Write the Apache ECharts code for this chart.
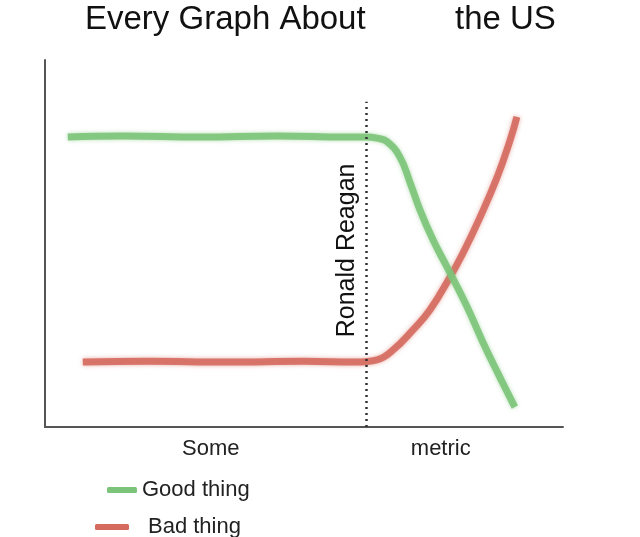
<!DOCTYPE html>
<html>
<head>
<meta charset="utf-8">
<style>
  html, body { margin: 0; padding: 0; background: #fff; }
  #container { width: 640px; height: 537px; }
</style>
<script src="https://cdn.jsdelivr.net/npm/echarts@6/dist/echarts.min.js"></script>
</head>
<body>
<div id="container"></div>
<script>
// "Some metric" runs 0..100 along x, y is an unitless 0..100 score
var goodX = [4.4, 15, 30, 45, 58, 62, 64.1, 66.0, 68.5, 70.5, 72.4, 74.9, 77.6, 81.5, 84.6, 87.8, 90.7];
var goodY = [79.0, 79.3, 79.0, 79.3, 79.0, 79.0, 78.7, 77.8, 73.6, 66.5, 59.1, 51.0, 43.6, 32.7, 22.9, 13.6, 5.4];

var badX = [7.3, 20, 35, 50, 60, 64.1, 67.2, 71.0, 74.3, 78.2, 80.7, 84.0, 87.3, 89.8, 91.1];
var badY = [17.7, 17.9, 17.7, 17.9, 17.7, 18.3, 21.0, 26.4, 31.9, 40.9, 47.4, 57.2, 68.1, 78.2, 84.5];

var tickLabels = ['Some', 'metric'];
var tickPositions = [32, 76.4];

var reaganX = 62;
var reaganTop = 88.6;

var FONT = '"Liberation Sans", Arial, sans-serif';

function pairs(xs, ys) {
	return xs.map(function (x, i) { return [x, ys[i]]; });
}

var myChart = echarts.init(document.getElementById('container'));

var option = {
	animation: false,
	backgroundColor: '#fff',
	title: [
		{ text: 'Every Graph About', left: 85, top: 3, padding: 0,
		  textStyle: { fontFamily: FONT, fontSize: 33, fontWeight: 'normal', color: '#111' } },
		{ text: 'the US', left: 455, top: 3, padding: 0,
		  textStyle: { fontFamily: FONT, fontSize: 33, fontWeight: 'normal', color: '#111' } }
	],
	legend: [
		{ data: ['Good thing'], left: 102, top: 474, icon: 'roundRect',
		  itemWidth: 30, itemHeight: 6,
		  textStyle: { fontFamily: FONT, fontSize: 22, color: '#222' } },
		{ data: ['Bad thing'], left: 90, top: 511, icon: 'roundRect',
		  itemWidth: 34, itemHeight: 6,
		  textStyle: { fontFamily: FONT, fontSize: 22, color: '#222', padding: [0, 0, 0, 14] } }
	],
	grid: { left: 45, right: 77, top: 60, bottom: 110 },
	xAxis: {
		type: 'value', min: 0, max: 100,
		splitLine: { show: false },
		axisTick: { show: false },
		axisLine: { lineStyle: { color: '#555', width: 2 } },
		axisLabel: {
			customValues: tickPositions,
			margin: 11,
			fontFamily: FONT, fontSize: 22, color: '#222',
			formatter: function (v) {
				var i = tickPositions.indexOf(v);
				return i >= 0 ? tickLabels[i] : '';
			}
		}
	},
	yAxis: {
		type: 'value', min: 0, max: 100,
		splitLine: { show: false },
		axisTick: { show: false },
		axisLabel: { show: false },
		axisLine: { show: true, lineStyle: { color: '#555', width: 2 } }
	},
	series: [
		{
			name: 'Good thing',
			type: 'line',
			smooth: 0.45,
			symbol: 'none',
			color: '#7cc479',
			lineStyle: { width: 7, color: '#7cc479', opacity: 0.9, shadowBlur: 4, shadowColor: 'rgba(124,196,121,0.6)' },
			data: pairs(goodX, goodY),
			z: 3
		},
		{
			name: 'Bad thing',
			type: 'line',
			smooth: 0.45,
			symbol: 'none',
			color: '#d56a5f',
			lineStyle: { width: 7, color: '#d56a5f', opacity: 0.9, shadowBlur: 4, shadowColor: 'rgba(213,106,95,0.6)' },
			data: pairs(badX, badY),
			z: 2,
			markLine: {
				silent: true,
				symbol: 'none',
				lineStyle: { color: '#333', width: 2.5, type: [2, 4], opacity: 1 },
				label: {
					show: true,
					formatter: 'Ronald Reagan',
					position: 'insideMiddleTop',
					distance: 7,
					fontFamily: FONT, fontSize: 25, color: '#111',
					padding: [0, 0, 0, 28]
				},
				data: [[{ coord: [reaganX, 0] }, { coord: [reaganX, reaganTop] }]]
			}
		}
	]
};

myChart.setOption(option);
</script>
</body>
</html>
